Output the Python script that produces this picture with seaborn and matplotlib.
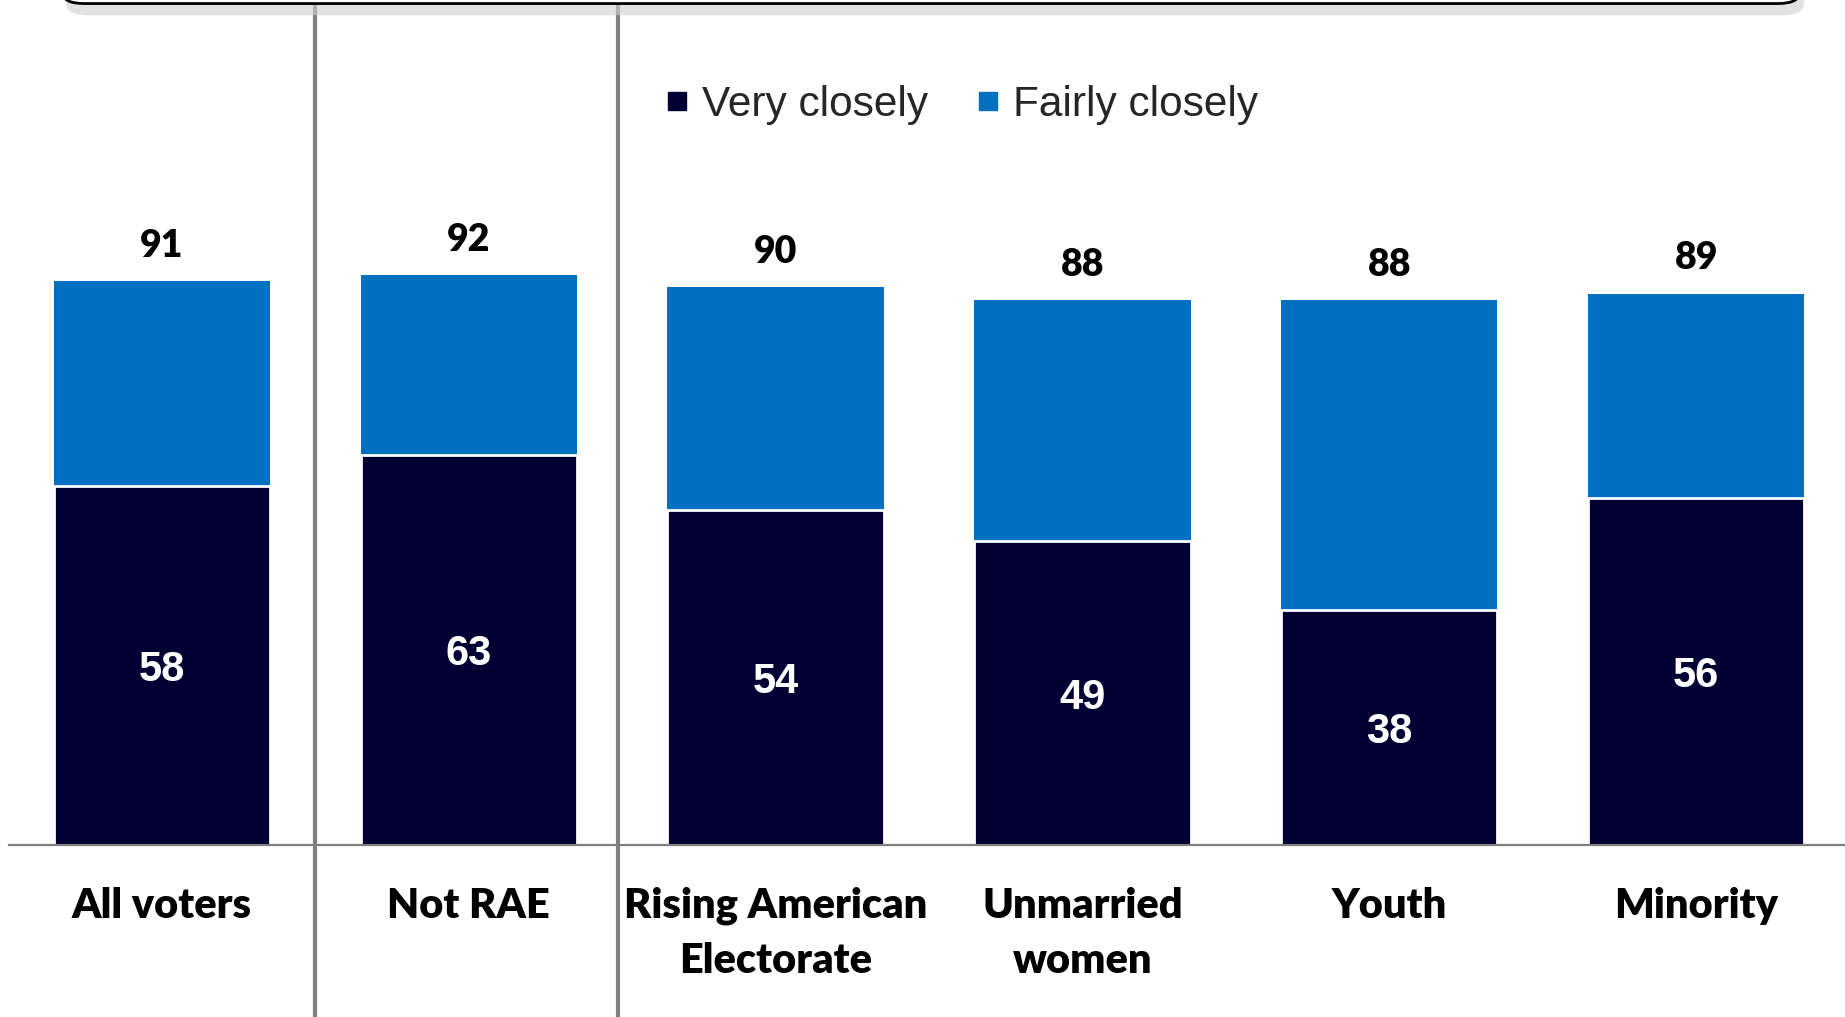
import matplotlib
matplotlib.use("Agg")
import matplotlib.pyplot as plt
import matplotlib.transforms as mtransforms
from matplotlib.patches import FancyBboxPatch
from matplotlib.lines import Line2D
import seaborn as sns
import pandas as pd

# data
groups = ["All voters", "Not RAE", "Rising American\nElectorate",
          "Unmarried\nwomen", "Youth", "Minority"]
very_closely = [58, 63, 54, 49, 38, 56]
total_closely = [91, 92, 90, 88, 88, 89]

navy = "#000033"
blue = "#0070C0"

df = pd.DataFrame({"group": groups, "very": very_closely, "total": total_closely})

sns.set_theme(style="white")
plt.rcParams["font.family"] = ["Lato", "DejaVu Sans"]

fig = plt.figure(figsize=(18.45, 10.17), dpi=100)
ax = fig.add_axes([8.5 / 1845, 172 / 1017, 1841 / 1845, 845 / 1017])

sns.barplot(data=df, x="group", y="total", color=blue, width=0.705,
            saturation=1, ax=ax, edgecolor="none")
sns.barplot(data=df, x="group", y="very", color=navy, width=0.705,
            saturation=1, ax=ax, edgecolor="white", linewidth=2)

ax.set_xlim(-0.5, 5.5)
ax.set_ylim(0, 136.4)
ax.set_xlabel("")
ax.set_ylabel("")
ax.set_yticks([])
sns.despine(ax=ax, left=True, right=True, top=True, bottom=False)
ax.spines["bottom"].set_color("#808080")
ax.spines["bottom"].set_linewidth(1.6)
ax.tick_params(axis="x", length=0, pad=30)
for lab in ax.get_xticklabels():
    lab.set_fontsize(30)
    lab.set_fontweight("heavy")
    lab.set_color("black")
    lab.set_linespacing(1.55)

# value labels
for i, (v, t) in enumerate(zip(very_closely, total_closely)):
    ax.text(i, v / 2 - 0.7, str(v), ha="center", va="center", color="white",
            fontsize=30, fontweight="bold", family=["Liberation Sans"])
    ax.text(i, t + 5.7, str(t), ha="center", va="center", color="black",
            fontsize=27, fontweight="heavy")

# separators spanning the whole figure height
trans = mtransforms.blended_transform_factory(ax.transData, fig.transFigure)
for xs in [0.5, 1.485]:
    fig.add_artist(Line2D([xs, xs], [0, 1], transform=trans,
                          color="#7f7f7f", lw=3))

# rounded box at the top edge (only its bottom shows)
shadow = FancyBboxPatch((66 / 1845, 0.985), 1738 / 1845, 0.1,
                        boxstyle="round,pad=0,rounding_size=0.012",
                        transform=fig.transFigure, facecolor="#d0d0d0",
                        edgecolor="none", alpha=0.6, zorder=5)
box = FancyBboxPatch((62 / 1845, 0.9965), 1738 / 1845, 0.1,
                     boxstyle="round,pad=0,rounding_size=0.012",
                     transform=fig.transFigure, facecolor="white",
                     edgecolor="black", lw=2, zorder=6)
fig.add_artist(shadow)
fig.add_artist(box)

handles = [Line2D([], [], marker="s", linestyle="", markersize=13, color=navy),
           Line2D([], [], marker="s", linestyle="", markersize=13, color=blue)]
fig.legend(handles, ["Very closely", "Fairly closely"], ncol=2,
           loc="center left", bbox_to_anchor=(664 / 1845, 1 - 105 / 1017),
           frameon=False, handletextpad=0.3, columnspacing=1.1,
           handlelength=0.6, borderaxespad=0, borderpad=0,
           prop={"family": "Liberation Sans", "size": 30.5})

fig.savefig("out.png", dpi=100)
